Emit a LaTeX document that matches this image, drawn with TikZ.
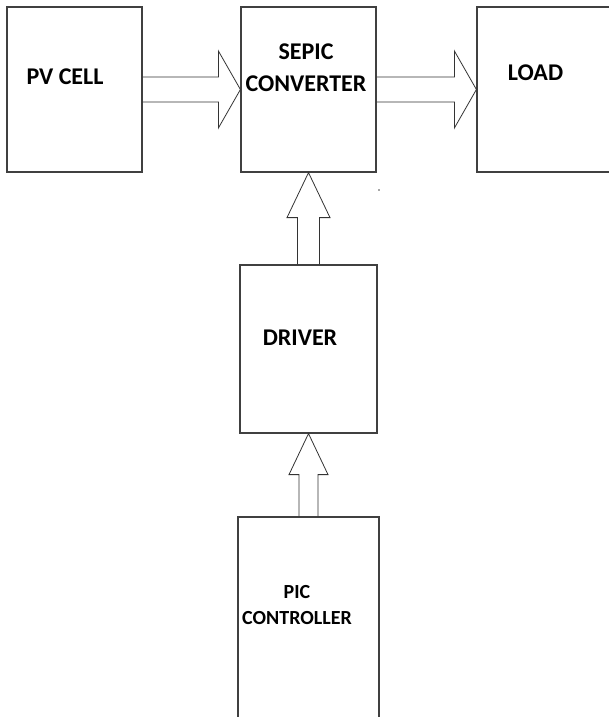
\documentclass[tikz,border=0pt]{standalone}
\usepackage{fontspec}
\setmainfont{Carlito}
\usetikzlibrary{calc}

\begin{document}
\begin{tikzpicture}[x=0.75pt,y=-0.75pt,
  blockbox/.style={draw=black!75,line width=0.9pt,inner sep=0pt},
  fatarrow/.style={draw=black!80,line width=0.6pt,line join=miter},
  boxtext/.style={font=\bfseries\fontsize{18}{24}\selectfont,align=center,inner sep=0pt},
  smalltext/.style={font=\bfseries\fontsize{15}{20}\selectfont,align=center,inner sep=0pt}]
 \useasboundingbox (0,0) rectangle (608,717);
 % the blocks
 \node[blockbox,minimum width=101.25pt,minimum height=123.75pt] (pv) at (74.5,89.5) {};
 \node[blockbox,minimum width=101.25pt,minimum height=123.75pt] (sepic) at (308.5,89.5) {};
 \node[blockbox,minimum width=127.5pt,minimum height=123.75pt] (load) at (562,89.5) {};
 \node[blockbox,minimum width=102.75pt,minimum height=126pt] (driver) at (308.5,349) {};
 \node[blockbox,minimum width=105.75pt,minimum height=184.5pt] (pic) at (308.5,640) {};
 % the texts
 \node[boxtext] (pvtext) at (65,77) {PV CELL};
 \node[boxtext] (sepictext) at (306,67.5) {SEPIC\\CONVERTER};
 \node[boxtext] (loadtext) at (535.5,73) {LOAD};
 \node[boxtext] (drivertext) at (300,338) {DRIVER};
 \node[smalltext] (pictext) at (297,605) {PIC\\CONTROLLER};
 % power flow
 \foreach \src/\dst in {pv/sepic, sepic/load} {
   \draw[fatarrow] ($(\src.east)+(0,-12.5)$) -- ($(\dst.west)+(-22,-12.5)$)
     -- ++(0,-26) -- (\dst.west) -- ++(-22,38.5) -- ++(0,-26)
     -- ($(\src.east)+(0,12.5)$);
 }
 % control signals
 \draw[fatarrow] ($(driver.north)+(-11,0)$) -- ($(sepic.south)+(-11,45)$)
   -- ++(-10.5,0) -- (sepic.south) -- ++(21.5,45) -- ++(-10.5,0)
   -- ($(driver.north)+(11,0)$);
 \draw[fatarrow] ($(pic.north)+(-9.5,0)$) -- ($(driver.south)+(-9.5,41)$)
   -- ++(-10,0) -- (driver.south) -- ++(19.5,41) -- ++(-10,0)
   -- ($(pic.north)+(9.5,0)$);
 \fill[black!70] (379,190) circle (0.9);
\end{tikzpicture}
\end{document}
